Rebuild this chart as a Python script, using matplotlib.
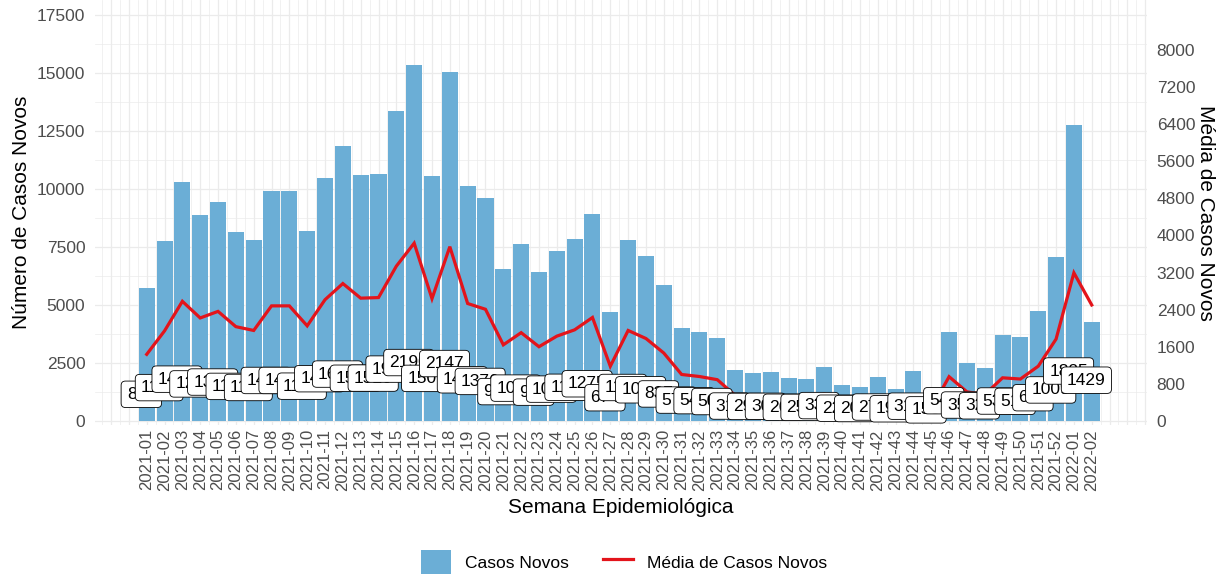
import matplotlib
matplotlib.use("Agg")
import matplotlib.pyplot as plt
from matplotlib.patches import Patch
from matplotlib.lines import Line2D
import numpy as np

# ---------------- data ----------------
semanas = [f"2021-{i:02d}" for i in range(1, 53)] + ["2022-01", "2022-02"]

casos_novos = [5750, 7770, 10315, 8880, 9450, 8135, 7805, 9925, 9925, 8205,
               10460, 11850, 10590, 10640, 13350, 15330, 10550, 15030, 10130, 9632,
               6566, 7615, 6408, 7313, 7860, 8925, 4718, 7805, 7112, 5860,
               4010, 3836, 3563, 2213, 2083, 2126, 1839, 1796, 2342, 1552,
               1451, 1911, 1380, 2170, 1050, 3822, 2514, 2284, 3722, 3621,
               4727, 7063, 12775, 4287]

media_casos = [821, 1110, 1474, 1269, 1350, 1162, 1115, 1418, 1418, 1172,
               1494, 1693, 1513, 1520, 1907, 2190, 1507, 2147, 1447, 1376,
               938, 1088, 915, 1045, 1123, 1275, 674, 1115, 1016, 837,
               573, 548, 509, 316, 298, 304, 263, 257, 335, 222,
               207, 273, 197, 310, 150, 546, 359, 326, 532, 517,
               675, 1009, 1825, 1429]

left_ticks = [0, 2500, 5000, 7500, 10000, 12500, 15000, 17500]
right_ticks = [0, 800, 1600, 2400, 3200, 4000, 4800, 5600, 6400, 7200, 8000]

# ---------------- style ----------------
plt.rcParams["font.family"] = ["Liberation Sans", "DejaVu Sans"]
BAR = "#6baed6"
RED = "#e3141b"
GRID = "#ebebeb"
TICK = "#4d4d4d"

W, H = 1221, 576
fig = plt.figure(figsize=(W / 100, H / 100), dpi=100)
pl, pr, pt, pb = 95, 1147, 0, 425
ax = fig.add_axes([pl / W, 1 - pb / H, (pr - pl) / W, (pb - pt) / H])

x = np.arange(len(semanas))
ax.set_xlim(-2.9, len(semanas) - 1 + 3.1)
ax.set_ylim(-172, 18147)

# grid
for y in np.arange(0, 18147, 1250):
    ax.axhline(y, color=GRID, lw=0.9 if y % 2500 == 0 else 0.5, zorder=0)
for xv in np.arange(-2.5, len(semanas) + 2.6, 0.5):
    ax.axvline(xv, color=GRID, lw=0.9 if float(xv).is_integer() else 0.5, zorder=0)

ax.bar(x, casos_novos, width=0.9, color=BAR, zorder=2)
ax.plot(x, np.array(media_casos) * 3.5, color=RED, lw=2.3, zorder=3,
        solid_joinstyle="miter")

for xi, m in zip(x, media_casos):
    ax.text(xi - 0.3, m + 330, f"{m}", ha="center", va="center", fontsize=12.5,
            color="black", zorder=5,
            bbox=dict(boxstyle="round,pad=0.33,rounding_size=0.25",
                      fc="white", ec="black", lw=0.6))

for s in ax.spines.values():
    s.set_visible(False)

ax.set_xticks(x)
ax.set_xticklabels(semanas, rotation=90, fontsize=12, color=TICK)
ax.set_yticks(left_ticks)
ax.set_yticklabels([str(t) for t in left_ticks], fontsize=12.5, color=TICK)
ax.tick_params(length=0, pad=3)
ax.tick_params(axis="y", pad=7)

sec = ax.secondary_yaxis("right", functions=(lambda v: v / 2, lambda v: v * 2))
sec.set_yticks(right_ticks)
sec.set_yticklabels([str(t) for t in right_ticks], fontsize=12.5, color=TICK)
sec.tick_params(length=0, pad=7)
for s in sec.spines.values():
    s.set_visible(False)
sec.set_ylabel("Média de Casos Novos", fontsize=15, rotation=270, labelpad=14)

ax.set_ylabel("Número de Casos Novos", fontsize=15, labelpad=4)
ax.set_xlabel("Semana Epidemiológica", fontsize=15, labelpad=5)

handles = [Patch(facecolor=BAR, edgecolor="none"),
           Line2D([0], [0], color=RED, lw=2.3)]
fig.legend(handles, ["Casos Novos", "Média de Casos Novos"], loc="center",
           bbox_to_anchor=(624 / W, 1 - 562 / H), ncol=2, frameon=False,
           fontsize=12.5, handlelength=1.7, handleheight=1.8, columnspacing=2.0,
           handletextpad=0.8)

fig.savefig("out.png", dpi=100, facecolor="white")
